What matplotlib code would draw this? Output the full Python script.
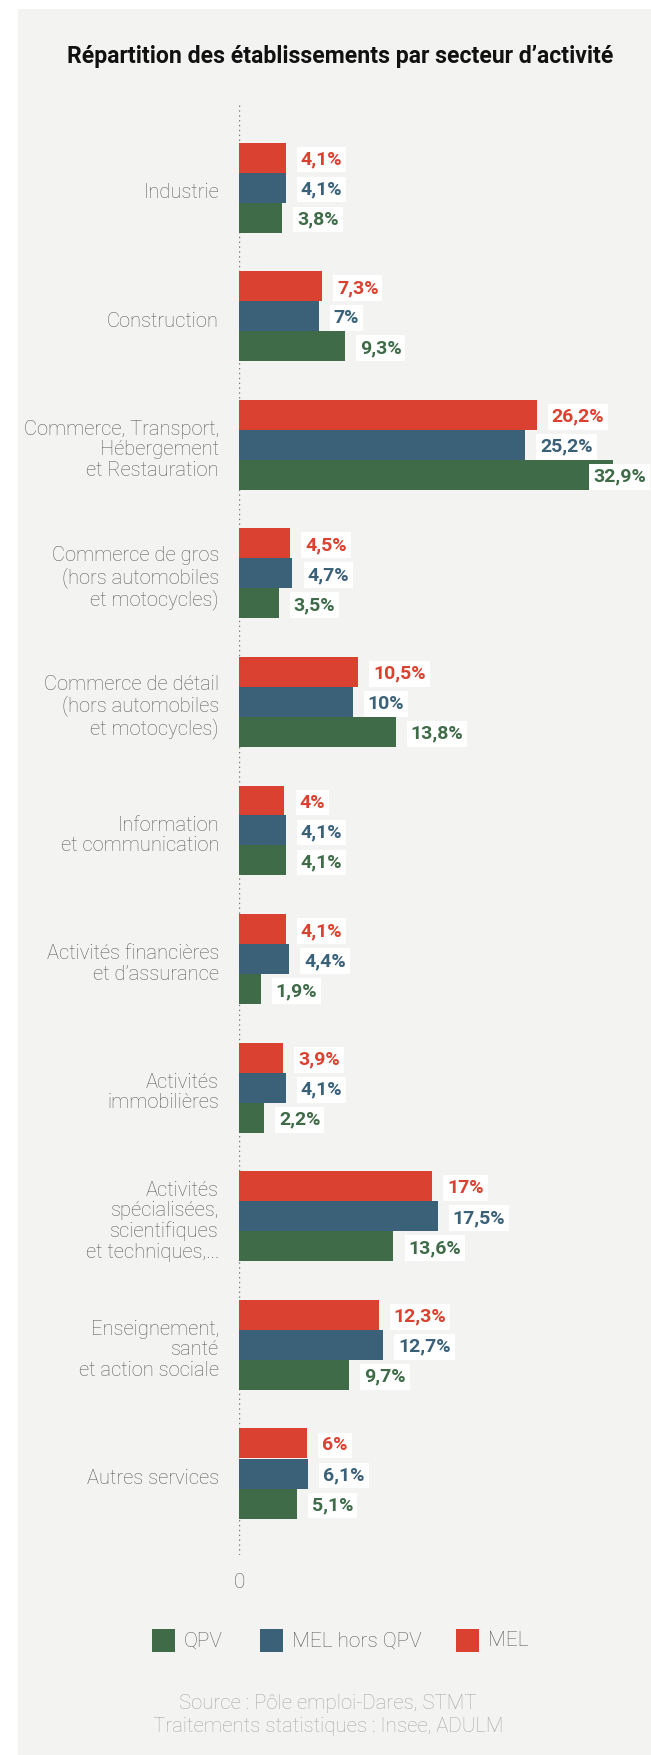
import matplotlib
matplotlib.use("Agg")
import matplotlib.pyplot as plt
from matplotlib.patches import Rectangle

# Répartition des établissements par secteur d'activité (%)
secteurs = [
    "Industrie",
    "Construction",
    "Commerce, Transport,\nHébergement\net Restauration",
    "Commerce de gros\n(hors automobiles\net motocycles)",
    "Commerce de détail\n(hors automobiles\net motocycles)",
    "Information\net communication",
    "Activités financières\net d’assurance",
    "Activités\nimmobilières",
    "Activités\nspécialisées,\nscientifiques\net techniques,...",
    "Enseignement,\nsanté\net action sociale",
    "Autres services",
]
mel = [4.1, 7.3, 26.2, 4.5, 10.5, 4.0, 4.1, 3.9, 17.0, 12.3, 6.0]
mel_hors_qpv = [4.1, 7.0, 25.2, 4.7, 10.0, 4.1, 4.4, 4.1, 17.5, 12.7, 6.1]
qpv = [3.8, 9.3, 32.9, 3.5, 13.8, 4.1, 1.9, 2.2, 13.6, 9.7, 5.1]

RED = "#db4130"
BLUE = "#3b6179"
GREEN = "#3f6b48"
BG = "#f3f4f2"
GREY = "#5c5c5c"

W, H = 651, 1755
fig = plt.figure(figsize=(W / 100, H / 100), dpi=100, facecolor="white")

# light panel behind everything
fig.patches.append(Rectangle((18 / W, 0), 1 - 18 / W, 1 - 9 / H,
                             transform=fig.transFigure, facecolor=BG,
                             edgecolor="none", zorder=-5))

fig.text(340 / W, 1 - 57 / H, "Répartition des établissements par secteur d’activité",
         ha="center", va="center", fontsize=16.6, fontweight="bold",
         family="Roboto", color="#111111")

# axes: x=0 at 239px, ~11.36 px per percent
ax_left, ax_top, ax_bottom = 239, 104, 1555
ax = fig.add_axes([ax_left / W, 1 - ax_bottom / H, (W - ax_left) / W,
                   (ax_bottom - ax_top) / H])
ax.set_facecolor("none")
px_per_pct = 11.36
ax.set_xlim(0, (W - ax_left) / px_per_pct)
gap = 128.6
ax.set_ylim(10 + (ax_bottom - 1473.5) / gap, -(187.5 - ax_top) / gap)
for s in ax.spines.values():
    s.set_visible(False)
ax.set_xticks([])
ax.set_yticks([])

ax.axvline(0, color="#777777", lw=1, ls=(0, (1, 2.5)), zorder=1)

h = 30 / gap
series = [(mel, RED, -h), (mel_hors_qpv, BLUE, 0), (qpv, GREEN, h)]
xmax = ax.get_xlim()[1]
for vals, color, off in series:
    ys = [i + off for i in range(len(vals))]
    ax.barh(ys, vals, height=h, color=color, zorder=2)
    for y, v in zip(ys, vals):
        txt = f"{v:g}".replace(".", ",") + "%"
        box = dict(boxstyle="square,pad=0.2", facecolor="white", edgecolor="none")
        if v > 30:
            ax.annotate(txt, xy=(xmax, y), xytext=(-5, -2), textcoords="offset pixels",
                        ha="right", va="center", fontsize=14, fontweight="bold",
                        family="Roboto", color=color, bbox=box, zorder=3)
        else:
            ax.annotate(txt, xy=(v, y), xytext=(15, -2), textcoords="offset pixels",
                        ha="left", va="center", fontsize=14, fontweight="bold",
                        family="Roboto", color=color, bbox=box, zorder=3)

for i, name in enumerate(secteurs):
    ax.annotate(name, xy=(0, i), xytext=(-20, -5), textcoords="offset pixels",
                ha="right", va="center", ma="right", fontsize=14.5, fontweight="light",
                family="Roboto", color=GREY, linespacing=1.09, annotation_clip=False)

fig.text(239 / W, 1 - 1583 / H, "0", ha="center", va="center", fontsize=15,
         fontweight="light", family="Roboto", color=GREY)

# legend
legend_items = [("QPV", GREEN, 152), ("MEL hors QPV", BLUE, 260), ("MEL", RED, 456)]
for label, color, x in legend_items:
    fig.patches.append(Rectangle((x / W, 1 - 1652 / H), 23 / W, 23 / H,
                                 transform=fig.transFigure, facecolor=color,
                                 edgecolor="none"))
    fig.text((x + 32) / W, 1 - 1641 / H, label, ha="left", va="center",
             fontsize=15, fontweight="light", family="Roboto", color=GREY)

fig.text(328 / W, 1 - 1715 / H,
         "Source : Pôle emploi-Dares, STMT\nTraitements statistiques : Insee, ADULM",
         ha="center", va="center", fontsize=14.7, fontweight="light",
         family="Roboto", color="#a8a8a8", linespacing=1.3)

fig.savefig("out.png", dpi=100, facecolor="white")
